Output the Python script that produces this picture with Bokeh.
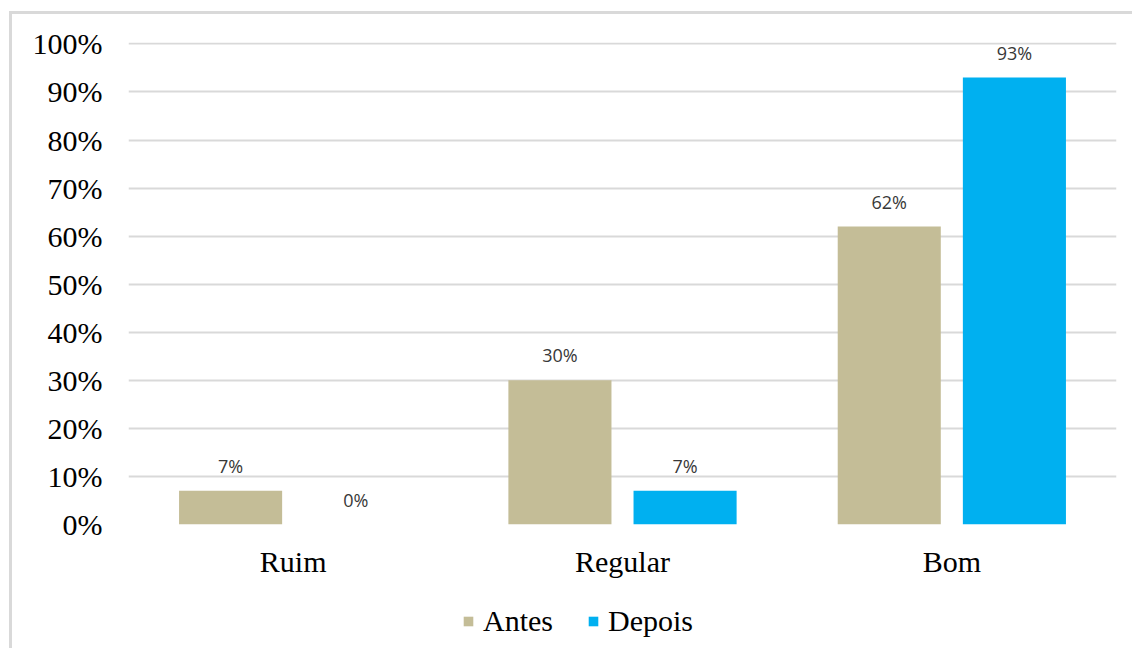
from bokeh.plotting import figure
from bokeh.layouts import column
from bokeh.models import (ColumnDataSource, FactorRange, Range1d, FixedTicker,
                          NumeralTickFormatter, Legend, LegendItem)
from bokeh.transform import dodge
from bokeh.core.properties import value
from bokeh.embed import file_html
from bokeh.resources import INLINE

categories = ["Ruim", "Regular", "Bom"]
series = ["Antes", "Depois"]
colors = ["#c4bd97", "#00b0f0"]
antes = [0.07, 0.30, 0.62]
depois = [0.00, 0.07, 0.93]
antes_labels = ["7%", "30%", "62%"]
depois_labels = ["0%", "7%", "93%"]
y_ticks = [0.0, 0.1, 0.2, 0.3, 0.4, 0.5, 0.6, 0.7, 0.8, 0.9, 1.0]

src = ColumnDataSource(dict(cat=categories, antes=antes, depois=depois,
                            al=antes_labels, dl=depois_labels))

p = figure(x_range=FactorRange(*categories), y_range=Range1d(0, 1.003),
           width=1120, height=580, output_backend="svg", toolbar_location=None,
           min_border_left=116, min_border_right=16, min_border_top=28,
           min_border_bottom=70)
p.outline_line_color = None
p.background_fill_color = "white"
p.border_fill_color = "white"

W = 0.313
off = 0.19
p.vbar(x=dodge("cat", -off, range=p.x_range), top="antes", width=W, source=src,
       fill_color=colors[0], line_color=None)
p.vbar(x=dodge("cat", off, range=p.x_range), top="depois", width=W, source=src,
       fill_color=colors[1], line_color=None)

for col, lab, o in (("antes", "al", -off), ("depois", "dl", off)):
    p.text(x=dodge("cat", o, range=p.x_range), y=col, text=lab, source=src,
           text_font=value("Open Sans"), text_font_size="18px", text_color="#383838",
           text_align="center", text_baseline="middle", y_offset=-25)

p.xgrid.grid_line_color = None
p.ygrid.grid_line_color = "#d9d9d9"
p.ygrid.grid_line_width = 2
p.yaxis.ticker = FixedTicker(ticks=y_ticks)
p.yaxis.formatter = NumeralTickFormatter(format="0%")
for ax in (p.xaxis[0], p.yaxis[0]):
    ax.axis_line_color = None
    ax.major_tick_line_color = None
    ax.major_tick_out = 0
    ax.major_tick_in = 0
    ax.minor_tick_line_color = None
    ax.minor_tick_out = 0
    ax.major_label_text_font = "Liberation Serif"
    ax.major_label_text_font_size = "30px"
    ax.major_label_text_color = "black"
p.yaxis.major_label_standoff = 26
p.xaxis.major_label_standoff = 20

# legend strip below the chart (zero-height dummy bars, invisible)
p2 = figure(width=1120, height=54, output_backend="svg", toolbar_location=None,
            x_range=Range1d(0, 1), y_range=Range1d(0, 1), min_border=0)
p2.axis.visible = False
p2.grid.grid_line_color = None
p2.outline_line_color = None
items = []
for name, c in zip(series, colors):
    r = p2.vbar(x=[0.5], top=[0], width=0.01, fill_color=c, line_color=None)
    items.append(LegendItem(label=name, renderers=[r]))
legend = Legend(items=items, orientation="horizontal", location=(334, 10),
                label_text_font="Liberation Serif", label_text_font_size="30px",
                label_text_color="black", label_height=30,
                glyph_width=12, glyph_height=12, label_standoff=9, spacing=34,
                border_line_color=None, background_fill_alpha=0, margin=0, padding=0)
p2.add_layout(legend, "center")

layout = column(p, p2, spacing=0)
layout.styles = {"border-left": "3px solid #d9d9d9", "border-top": "3px solid #d9d9d9",
                 "margin-left": "9px", "margin-top": "11px"}

open("out.html", "w").write(file_html(layout, INLINE))
